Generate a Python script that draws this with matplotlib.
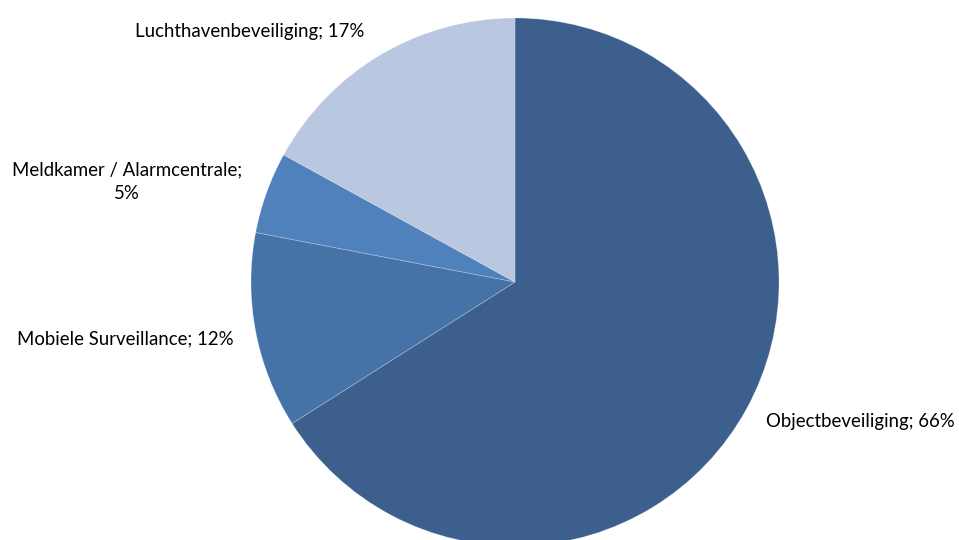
import matplotlib
matplotlib.use('Agg')
import matplotlib.pyplot as plt

# share per type of security work, clockwise from the top
categories = ['Objectbeveiliging', 'Mobiele Surveillance', 'Meldkamer / Alarmcentrale', 'Luchthavenbeveiliging']
shares = [66, 12, 5, 17]
colors = ['#3C5F8E', '#4573A8', '#4F81BD', '#BAC7E1']

labels = ['%s; %d%%' % (c, s) for c, s in zip(categories, shares)]
labels[2] = '%s;\n%d%%' % (categories[2], shares[2])

W, H = 959, 540
fig = plt.figure(figsize=(W / 100.0, H / 100.0), dpi=100)

#pie centre at (515,282) px, radius 264 px
cx, cy, r = 515, 282, 264
ax = fig.add_axes([(cx - r) / W, (H - cy - r) / H, 2 * r / W, 2 * r / H])
ax.pie(shares, colors=colors, startangle=90, counterclock=False, radius=1,
       wedgeprops={'edgecolor': (1, 1, 1, 0.25), 'linewidth': 0.6})
ax.set_xlim(-1, 1)
ax.set_ylim(-1, 1)
ax.set_aspect('equal')
ax.axis('off')

font = {'family': 'Lato', 'size': 13.4, 'color': 'black'}
#label positions in pixels (x, y, ha)
labelPos = [(766, 422, 'left'), (17, 339, 'left'), (127, 182, 'center'), (135, 32, 'left')]
for lab, (px, py, ha) in zip(labels, labelPos):
    fig.text(px / W, 1 - py / H, lab, ha=ha, va='center', multialignment='center',
             linespacing=1.45, **font)

fig.savefig('out.png', dpi=100)
